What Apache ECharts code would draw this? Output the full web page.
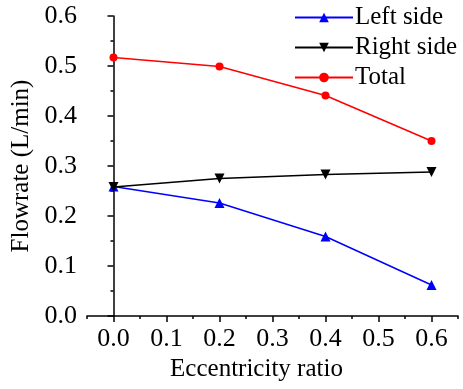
<!DOCTYPE html>
<html>
<head>
<meta charset="utf-8">
<script src="https://cdn.jsdelivr.net/npm/echarts@6/dist/echarts.min.js"></script>
<style>html,body{margin:0;padding:0;background:#fff}#c{width:463px;height:389px}</style>
</head>
<body>
<div id="c"></div>
<script>
const xValues = [0.0, 0.2, 0.4, 0.6];
const leftSide = [0.259, 0.226, 0.159, 0.062];
const rightSide = [0.258, 0.275, 0.283, 0.288];
const total = [0.517, 0.499, 0.441, 0.350];
const xTickLabels = [0.0, 0.1, 0.2, 0.3, 0.4, 0.5, 0.6];
const xMinorTicks = [-0.05, 0.05, 0.15, 0.25, 0.35, 0.45, 0.55, 0.65];
const seriesNames = ['Left side', 'Right side', 'Total'];

const font = 'Liberation Serif, Times New Roman, serif';
const chart = echarts.init(document.getElementById('c'));
const pair = arr => xValues.map((x, i) => [x, arr[i]]);
const axisLine = {show: true, lineStyle: {color: '#000', width: 1.5}};

chart.setOption({
  animation: false,
  textStyle: {fontFamily: font},
  grid: {left: 87, right: 5, top: 16, bottom: 73, containLabel: false, outerBoundsMode: 'none'},
  legend: {
    orient: 'vertical', left: 289, top: 0,
    itemWidth: 58, itemHeight: 12, itemGap: 5,
    textStyle: {fontFamily: font, fontSize: 25, color: '#000', padding: [0, 0, 0, -3]},
    data: seriesNames
  },
  xAxis: [{
    type: 'value', min: -0.05, max: 0.65, interval: 0.05,
    axisLine: axisLine,
    axisTick: {show: true, customValues: xTickLabels, length: 6, lineStyle: {color: '#000', width: 1.5}},
    axisLabel: {customValues: xTickLabels, formatter: v => v.toFixed(1), fontFamily: font, fontSize: 26, color: '#000', margin: 10},
    splitLine: {show: false},
    name: 'Eccentricity ratio', nameLocation: 'middle', nameGap: 40,
    nameTextStyle: {fontFamily: font, fontSize: 25, color: '#000', padding: [0, 32, 0, 0]}
  }, {
    type: 'value', min: -0.05, max: 0.65, interval: 0.05, position: 'bottom',
    axisLine: {show: false},
    axisTick: {show: true, customValues: xMinorTicks, length: 3, lineStyle: {color: '#000', width: 1.5}},
    axisLabel: {show: false},
    splitLine: {show: false}
  }],
  yAxis: {
    type: 'value', min: 0, max: 0.6, interval: 0.1,
    axisLine: axisLine,
    axisTick: {show: true, length: 6, lineStyle: {color: '#000', width: 1.5}},
    minorTick: {show: true, splitNumber: 2, length: 3, lineStyle: {color: '#000', width: 1.5}},
    axisLabel: {formatter: v => v.toFixed(1), fontFamily: font, fontSize: 26, color: '#000', margin: 10},
    splitLine: {show: false},
    name: 'Flowrate (L/min)', nameLocation: 'middle', nameGap: 52,
    nameTextStyle: {fontFamily: font, fontSize: 25, color: '#000'}
  },
  series: [
    {name: seriesNames[0], type: 'line', data: pair(leftSide), symbol: 'triangle', symbolSize: 10,
     itemStyle: {color: '#0000ff'}, lineStyle: {color: '#0000ff', width: 1.5}, z: 2},
    {name: seriesNames[1], type: 'line', data: pair(rightSide), symbol: 'triangle', symbolRotate: 180, symbolSize: 10,
     itemStyle: {color: '#000'}, lineStyle: {color: '#000', width: 1.5}, z: 3},
    {name: seriesNames[2], type: 'line', data: pair(total), symbol: 'circle', symbolSize: 8,
     itemStyle: {color: '#ff0000'}, lineStyle: {color: '#ff0000', width: 1.5}, z: 4}
  ]
});
</script>
</body>
</html>
